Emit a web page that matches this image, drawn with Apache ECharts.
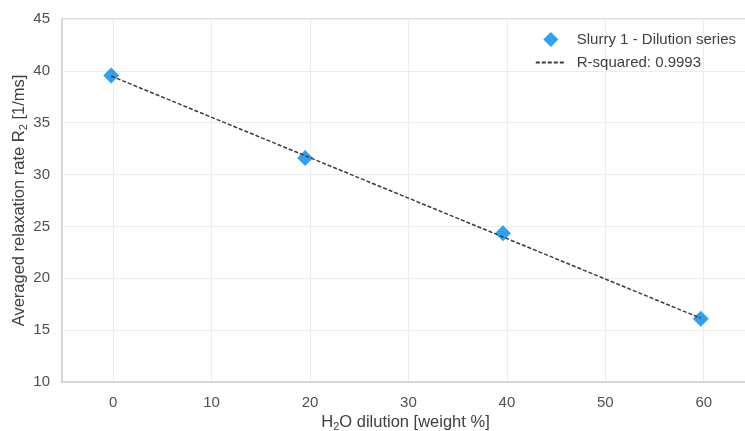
<!DOCTYPE html>
<html>
<head>
<meta charset="utf-8">
<script src="https://cdn.jsdelivr.net/npm/echarts@6/dist/echarts.min.js"></script>
<style>
	html, body { margin: 0; padding: 0; background: #fff; }
	#chart { width: 745px; height: 431px; }
</style>
</head>
<body>
<div id="chart"></div>
<script>
// Measured points: H2O dilution [weight %] vs averaged R2 [1/ms]
var dilution = [-0.2, 19.5, 39.6, 59.7];
var relaxRate = [39.55, 31.6, 24.35, 16.1];
// Ends of the fitted (dashed) line
var fitX = [-0.2, 59.7];
var fitY = [39.5, 16.15];
var rSquared = '0.9993';
var yTicks = [10, 45, 5]; // min, max, step

var FONT = 'Liberation Sans, Arial, sans-serif';
var DIAMOND = 'path://M0,-1L1,0L0,1L-1,0Z';

function pairs(xs, ys) {
	var out = [];
	for (var i = 0; i < xs.length; i++) out.push([xs[i], ys[i]]);
	return out;
}

// rich styles for axis titles with a subscript 2
var titleRich = {
	n: { fontFamily: FONT, fontSize: 16.5, color: '#404040', lineHeight: 20 },
	s: { fontFamily: FONT, fontSize: 11, color: '#404040', lineHeight: 11, verticalAlign: 'bottom' }
};

var seriesName = 'Slurry 1 - Dilution series';
var fitName = 'R-squared: ' + rSquared;

var chart = echarts.init(document.getElementById('chart'), null, { renderer: 'canvas' });
chart.setOption({
	backgroundColor: '#fff',
	animation: false,
	textStyle: { fontFamily: FONT },
	grid: {
		left: 62, right: -4, top: 19, bottom: 49,
		outerBoundsMode: 'none',
		containLabel: false,
		show: true, borderColor: '#d4d4d4', borderWidth: 1.5
	},
	legend: {
		orient: 'vertical',
		right: 4, top: 27,
		itemWidth: 30, itemHeight: 15, itemGap: 8,
		textStyle: { fontFamily: FONT, fontSize: 15, color: '#404040', padding: [0, 0, 0, 6] },
		data: [
			{ name: seriesName, icon: DIAMOND },
			{ name: fitName, itemStyle: { opacity: 0 } }
		]
	},
	xAxis: {
		type: 'value',
		min: -5.2, max: 64.6,
		splitNumber: 7,
		name: '{n|H}{s|2}{n|O dilution [weight %]}',
		nameLocation: 'middle',
		nameGap: 30,
		nameMoveOverlap: false,
		nameTextStyle: { rich: titleRich },
		axisLine: { show: true, onZero: false, lineStyle: { color: '#d0d0d0', width: 1.5 } },
		axisTick: { show: false },
		axisLabel: { showMinLabel: false, showMaxLabel: false, margin: 13, fontSize: 15, color: '#505050', fontFamily: FONT },
		splitLine: { show: true, lineStyle: { color: '#ececec', width: 1 } }
	},
	yAxis: {
		type: 'value',
		min: yTicks[0], max: yTicks[1], interval: yTicks[2],
		name: '{n|Averaged relaxation rate R}{s|2}{n| [1/ms]}',
		nameLocation: 'middle',
		nameGap: 33,
		nameMoveOverlap: false,
		nameTextStyle: { rich: titleRich },
		axisLine: { show: true, onZero: false, lineStyle: { color: '#d0d0d0', width: 1.5 } },
		axisTick: { show: false },
		axisLabel: { margin: 12, fontSize: 15, color: '#505050', fontFamily: FONT },
		splitLine: { show: true, lineStyle: { color: '#ececec', width: 1 } }
	},
	series: [
		{
			name: seriesName,
			type: 'scatter',
			symbol: DIAMOND,
			symbolSize: 16,
			itemStyle: { color: '#0088e8' },
			data: pairs(dilution, relaxRate),
			z: 2
		},
		{
			name: fitName,
			type: 'line',
			symbol: 'none',
			lineStyle: { color: '#3a3a3a', width: 1.5, type: [4, 2] },
			itemStyle: { color: '#3a3a3a' },
			data: pairs(fitX, fitY),
			z: 3
		}
	]
});
</script>
</body>
</html>
